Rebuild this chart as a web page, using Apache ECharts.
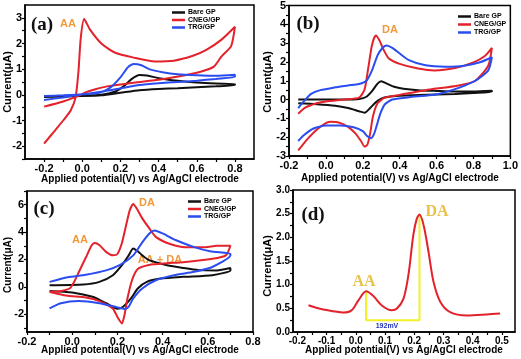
<!DOCTYPE html>
<html><head><meta charset="utf-8">
<script src="https://cdn.jsdelivr.net/npm/echarts@6/dist/echarts.min.js"></script>
<style>html,body{margin:0;padding:0;background:#fff}#c{width:521px;height:359px}</style>
</head><body><div id="c"></div>
<script>
// ---------- data ----------
const seriesNames = ['Bare GP', 'CNEG/GP', 'TRG/GP'];

// panel (a) AA
const aBare = [[-0.2,-0.05],[0.0,-0.03],[0.1,0.0],[0.17,0.12],[0.22,0.35],[0.26,0.62],[0.3,0.77],[0.34,0.75],[0.4,0.65],[0.5,0.55],[0.6,0.48],[0.7,0.44],[0.8,0.42],[0.8,0.38],[0.7,0.33],[0.6,0.3],[0.5,0.26],[0.4,0.23],[0.3,0.18],[0.2,0.08],[0.1,-0.02],[0.0,-0.05],[-0.2,-0.08]];
const aCneg = [[-0.2,-1.9],[-0.15,-1.45],[-0.1,-1.0],[-0.06,-0.6],[-0.035,-0.1],[-0.02,0.9],[-0.008,2.2],[0.01,2.95],[0.04,2.55],[0.1,2.0],[0.17,1.65],[0.27,1.45],[0.38,1.3],[0.48,1.33],[0.58,1.52],[0.65,1.75],[0.73,2.15],[0.8,2.65],[0.78,1.9],[0.73,1.5],[0.69,1.1],[0.62,0.9],[0.51,0.72],[0.41,0.6],[0.27,0.47],[0.13,0.33],[0.03,0.13],[-0.03,-0.07],[-0.1,-0.26],[-0.2,-0.46]];
const aTrg = [[-0.2,-0.05],[-0.1,-0.02],[0.0,0.02],[0.1,0.1],[0.15,0.3],[0.2,0.68],[0.24,1.08],[0.27,1.2],[0.31,1.15],[0.35,1.0],[0.42,0.88],[0.5,0.8],[0.6,0.76],[0.7,0.74],[0.8,0.78],[0.8,0.7],[0.7,0.62],[0.6,0.55],[0.5,0.5],[0.4,0.45],[0.3,0.38],[0.2,0.25],[0.1,0.12],[0.0,0.02],[-0.1,-0.1],[-0.2,-0.2]];

// panel (b) DA
const bBare = [[-0.15,0.0],[0.0,0.0],[0.1,0.0],[0.18,0.03],[0.22,0.15],[0.25,0.45],[0.28,0.85],[0.3,0.97],[0.33,0.85],[0.37,0.68],[0.42,0.58],[0.5,0.5],[0.6,0.46],[0.7,0.43],[0.8,0.43],[0.9,0.47],[0.9,0.42],[0.8,0.35],[0.7,0.3],[0.6,0.27],[0.5,0.24],[0.4,0.2],[0.34,0.15],[0.3,0.05],[0.27,-0.15],[0.24,-0.45],[0.21,-0.7],[0.18,-0.62],[0.12,-0.45],[0.05,-0.33],[-0.05,-0.25],[-0.15,-0.2]];
const bCneg = [[-0.15,-0.75],[-0.11,-0.42],[-0.05,-0.2],[0.0,-0.1],[0.1,0.0],[0.18,0.1],[0.21,0.55],[0.23,1.7],[0.25,2.9],[0.27,3.4],[0.29,3.15],[0.31,2.7],[0.34,2.2],[0.4,1.9],[0.5,1.65],[0.59,1.55],[0.7,1.68],[0.8,1.98],[0.86,2.3],[0.9,2.75],[0.88,1.8],[0.81,1.0],[0.72,0.75],[0.54,0.5],[0.4,0.25],[0.32,0.1],[0.28,-0.2],[0.255,-0.9],[0.24,-1.8],[0.225,-2.4],[0.21,-2.5],[0.19,-2.2],[0.16,-1.8],[0.12,-1.45],[0.07,-1.22],[0.03,-1.18],[0.0,-1.25],[-0.05,-1.6],[-0.1,-2.1],[-0.15,-2.7]];
const bTrg = [[-0.15,-0.45],[-0.12,-0.1],[-0.08,0.3],[-0.03,0.5],[0.05,0.65],[0.12,0.75],[0.18,0.83],[0.22,1.0],[0.25,1.55],[0.28,2.35],[0.31,2.78],[0.33,2.88],[0.36,2.75],[0.4,2.45],[0.45,2.1],[0.54,1.82],[0.65,1.75],[0.75,1.8],[0.84,2.0],[0.9,2.25],[0.88,1.55],[0.81,1.0],[0.72,0.62],[0.61,0.3],[0.45,0.12],[0.36,0.0],[0.32,-0.25],[0.295,-0.75],[0.275,-1.4],[0.26,-1.85],[0.245,-2.05],[0.225,-1.95],[0.2,-1.68],[0.15,-1.47],[0.08,-1.38],[0.0,-1.38],[-0.07,-1.55],[-0.12,-1.9],[-0.15,-2.2]];

// panel (c) AA + DA
const cBare = [[-0.1,0.12],[0.05,0.17],[0.12,0.36],[0.18,0.85],[0.22,1.58],[0.25,2.3],[0.27,2.8],[0.29,2.6],[0.31,2.3],[0.34,1.95],[0.42,1.58],[0.49,1.38],[0.56,1.22],[0.64,1.2],[0.7,1.38],[0.7,1.2],[0.62,0.85],[0.49,0.73],[0.39,0.6],[0.33,0.36],[0.29,-0.12],[0.26,-0.85],[0.225,-1.45],[0.2,-1.6],[0.15,-1.2],[0.09,-0.73],[0.0,-0.41],[-0.1,-0.3]];
const cCneg = [[-0.1,-0.36],[-0.05,-0.3],[-0.01,-0.1],[0.01,0.4],[0.03,1.1],[0.065,2.3],[0.085,3.0],[0.1,3.2],[0.12,3.05],[0.15,2.55],[0.18,2.3],[0.2,2.4],[0.22,3.2],[0.24,4.6],[0.255,5.6],[0.27,6.05],[0.29,5.6],[0.31,5.0],[0.34,4.3],[0.37,3.65],[0.43,3.15],[0.5,2.9],[0.59,2.9],[0.64,3.0],[0.7,3.0],[0.68,2.3],[0.62,2.05],[0.49,1.8],[0.42,1.72],[0.34,1.6],[0.29,1.3],[0.265,0.5],[0.245,-0.8],[0.232,-2.0],[0.22,-2.67],[0.2,-2.2],[0.18,-1.6],[0.12,-1.04],[0.06,-0.78],[-0.02,-0.65],[-0.08,-0.45],[-0.1,-0.38]];
const cTrg = [[-0.1,0.36],[-0.02,0.7],[0.06,0.88],[0.15,1.2],[0.21,1.58],[0.27,2.3],[0.31,3.25],[0.345,3.95],[0.365,4.12],[0.4,3.9],[0.46,3.4],[0.54,2.9],[0.61,2.6],[0.7,2.42],[0.7,2.3],[0.62,1.45],[0.54,1.1],[0.45,0.85],[0.37,0.48],[0.31,-0.12],[0.27,-0.85],[0.25,-1.45],[0.235,-1.62],[0.2,-1.5],[0.12,-1.2],[0.03,-1.04],[-0.05,-1.2],[-0.1,-1.58]];

// panel (d) DPV
const dCurve = [[-0.162,0.565],[-0.122,0.49],[-0.077,0.44],[-0.042,0.41],[-0.014,0.46],[0.009,0.67],[0.035,0.86],[0.06,0.76],[0.089,0.56],[0.123,0.46],[0.14,0.49],[0.163,0.7],[0.18,1.2],[0.197,2.05],[0.209,2.4],[0.218,2.48],[0.232,2.26],[0.249,1.69],[0.266,1.06],[0.289,0.64],[0.323,0.42],[0.38,0.35],[0.448,0.37],[0.494,0.39]];
const dPeakSep = [[0.035,0.86],[0.035,0.25],[0.218,0.25],[0.218,2.48]];

// tick labels
const xLabA = [-0.2,0,0.2,0.4,0.6,0.8], xTickA = [-0.2,-0.1,0,0.1,0.2,0.3,0.4,0.5,0.6,0.7,0.8];
const yLabA = [-2,-1,0,1,2,3], yTickA = [-2.5,-2,-1.5,-1,-0.5,0,0.5,1,1.5,2,2.5,3];
const xLabB = [-0.2,0,0.2,0.4,0.6,0.8,1.0], xTickB = [-0.2,-0.1,0,0.1,0.2,0.3,0.4,0.5,0.6,0.7,0.8,0.9,1.0];
const yLabB = [-3,-2,-1,0,1,2,3,4,5], yTickB = [-3,-2.5,-2,-1.5,-1,-0.5,0,0.5,1,1.5,2,2.5,3,3.5,4,4.5,5];
const xLabC = [-0.2,0,0.2,0.4,0.6,0.8], xTickC = [-0.2,-0.1,0,0.1,0.2,0.3,0.4,0.5,0.6,0.7,0.8];
const yLabC = [-2,0,2,4,6], yTickC = [-3,-2,-1,0,1,2,3,4,5,6,7];
const xLabD = [-0.2,-0.1,0,0.1,0.2,0.3,0.4,0.5], xTickD = [-0.2,-0.15,-0.1,-0.05,0,0.05,0.1,0.15,0.2,0.25,0.3,0.35,0.4,0.45,0.5];
const yLabD = [0,0.5,1,1.5,2,2.5,3], yTickD = [0,0.25,0.5,0.75,1,1.25,1.5,1.75,2,2.25,2.5,2.75,3];

// ---------- chart ----------
const FONT = '"Liberation Sans", Arial, sans-serif';
const SERIF = '"Liberation Serif", "Times New Roman", serif';
const COL = ['#111111', '#e3222b', '#2a4cf0'];
const ORANGE = '#f29a3a', GOLD = '#e8c24a';

const grids = [
  {left: 25, top: 5, width: 229, height: 154},
  {left: 289, top: 5, width: 223, height: 151},
  {left: 27, top: 191, width: 226, height: 141},
  {left: 293, top: 190, width: 222, height: 142}
].map(g => Object.assign({show: true, borderColor: '#000', borderWidth: 1.5, containLabel: false}, g));

function xAx(gi, min, max, labs, ticks, fs) {
  return {type: 'value', gridIndex: gi, min, max,
    axisLine: {show: true, onZero: false, lineStyle: {color: '#000', width: 1.5}},
    axisTick: {show: true, length: 3, lineStyle: {color: '#000', width: 1.2}, customValues: ticks},
    axisLabel: {customValues: labs, formatter: v => v.toFixed(1), color: '#000', fontSize: fs, fontWeight: 'bold', fontFamily: FONT, margin: 4},
    splitLine: {show: false}};
}
function yAx(gi, min, max, labs, ticks, fmt, fs) {
  return {type: 'value', gridIndex: gi, min, max,
    axisLine: {show: true, onZero: false, lineStyle: {color: '#000', width: 1.5}},
    axisTick: {show: true, length: 3, lineStyle: {color: '#000', width: 1.2}, customValues: ticks},
    axisLabel: {customValues: labs, formatter: fmt, color: '#000', fontSize: fs, fontWeight: 'bold', fontFamily: FONT, margin: 3},
    splitLine: {show: false}};
}
const intFmt = v => String(Math.round(v));
const oneFmt = v => v.toFixed(1);

const xAxes = [
  xAx(0, -0.3, 0.9, xLabA, xTickA, 11),
  xAx(1, -0.2, 1.0, xLabB, xTickB, 11),
  xAx(2, -0.2, 0.8, xLabC, xTickC, 11),
  xAx(3, -0.215, 0.545, xLabD, xTickD, 10)
];
const yAxes = [
  yAx(0, -2.5, 3.5, yLabA, yTickA, intFmt, 11),
  yAx(1, -3, 5, yLabB, yTickB, intFmt, 11),
  yAx(2, -3.3, 7, yLabC, yTickC, intFmt, 11),
  yAx(3, 0, 3, yLabD, yTickD, oneFmt, 10)
];

function cv(name, data, idx, k) {
  return {name, type: 'line', xAxisIndex: idx, yAxisIndex: idx, data, smooth: 0.22,
    showSymbol: false, symbol: 'none', lineStyle: {color: COL[k], width: 2}, itemStyle: {color: COL[k]}, z: 2 + k};
}
const series = [
  cv(seriesNames[0], aBare, 0, 0), cv(seriesNames[1], aCneg, 0, 1), cv(seriesNames[2], aTrg, 0, 2),
  cv(seriesNames[0], bBare, 1, 0), cv(seriesNames[1], bCneg, 1, 1), cv(seriesNames[2], bTrg, 1, 2),
  cv(seriesNames[0], cBare, 2, 0), cv(seriesNames[1], cCneg, 2, 1), cv(seriesNames[2], cTrg, 2, 2),
  {name: 'DPV', type: 'line', xAxisIndex: 3, yAxisIndex: 3, data: dCurve, smooth: 0.3, symbol: 'none',
    lineStyle: {color: COL[1], width: 2}, z: 3},
  {name: 'sep', type: 'line', xAxisIndex: 3, yAxisIndex: 3, data: dPeakSep, symbol: 'none',
    lineStyle: {color: '#f2f02a', width: 2}, z: 2}
];

function leg(left, top, gap) {
  return {data: seriesNames, left, top, orient: 'vertical', itemWidth: 13, itemHeight: 2.5, itemGap: gap,
    icon: 'rect', padding: 0, selectedMode: false,
    textStyle: {fontSize: 7, fontWeight: 'bold', fontFamily: FONT, color: '#000', lineHeight: 7, padding: [0, 0, 0, -2]}};
}

function txt(x, y, s, font, fill, rot) {
  return {type: 'text', x, y, rotation: rot || 0, silent: true,
    style: {text: s, font, fill, align: 'center', verticalAlign: 'middle', textAlign: 'center', textVerticalAlign: 'middle'}};
}
const XT = 'Applied potential(V) vs Ag/AgCl electrode';
const YT = 'Current(\u03bcA)';
const graphic = [
  txt(140, 179, XT, 'bold 10px ' + FONT, '#000'),
  txt(400, 178, XT, 'bold 10px ' + FONT, '#000'),
  txt(140, 350, XT, 'bold 10px ' + FONT, '#000'),
  txt(404, 350, XT, 'bold 10px ' + FONT, '#000'),
  txt(8, 82, YT, 'bold 11px ' + FONT, '#000', Math.PI / 2),
  txt(268, 82, YT, 'bold 11px ' + FONT, '#000', Math.PI / 2),
  txt(8, 265, YT, 'bold 10px ' + FONT, '#000', Math.PI / 2),
  txt(268, 266, YT, 'bold 11px ' + FONT, '#000', Math.PI / 2),
  txt(42, 25, '(a)', 'bold 19px ' + SERIF, '#111'),
  txt(308, 24, '(b)', 'bold 19px ' + SERIF, '#111'),
  txt(44, 209, '(c)', 'bold 19px ' + SERIF, '#111'),
  txt(313, 215, '(d)', 'bold 19px ' + SERIF, '#111'),
  txt(68, 24, 'AA', 'bold 11px ' + FONT, ORANGE),
  txt(390, 30, 'DA', 'bold 11px ' + FONT, ORANGE),
  txt(80, 240, 'AA', 'bold 11px ' + FONT, ORANGE),
  txt(147, 203, 'DA', 'bold 11px ' + FONT, ORANGE),
  txt(160, 260, 'AA + DA', 'bold 11px ' + FONT, ORANGE),
  txt(364, 282, 'AA', 'bold 16px ' + SERIF, GOLD),
  txt(437, 212, 'DA', 'bold 16px ' + SERIF, GOLD),
  txt(387, 326, '192mV', 'bold 7px ' + FONT, '#2233bb')
];

const chart = echarts.init(document.getElementById('c'), null, {renderer: 'canvas'});
chart.setOption({
  animation: false,
  grid: grids,
  xAxis: xAxes,
  yAxis: yAxes,
  legend: [leg(172, 9, 0.5), leg(458, 13, 1), leg(188, 198, 0.5)],
  series,
  graphic
});
</script></body></html>
